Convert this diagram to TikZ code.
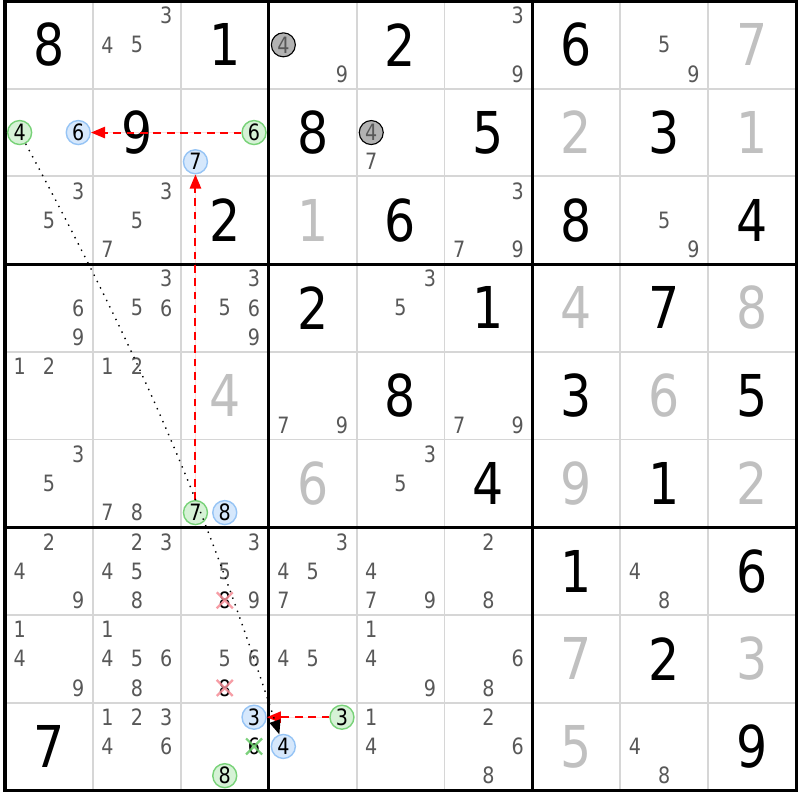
\documentclass[tikz,border=0pt]{standalone}
\usepackage{fontspec}
\setmainfont[FakeStretch=0.85]{DejaVu Sans}
\usetikzlibrary{arrows.meta}

\definecolor{candgray}{RGB}{88,88,88}
\definecolor{solvedgray}{RGB}{192,192,192}
\definecolor{gridgray}{RGB}{214,214,214}
\definecolor{greenfill}{RGB}{214,242,214}
\definecolor{greenline}{RGB}{120,210,120}
\definecolor{bluefill}{RGB}{214,232,252}
\definecolor{blueline}{RGB}{150,196,245}
\definecolor{finfill}{RGB}{178,178,178}
\definecolor{xredcol}{RGB}{245,140,150}
\definecolor{xgreencol}{RGB}{100,200,100}
\definecolor{linkred}{RGB}{255,0,0}

% centre of candidate #3 in cell (col #1, row #2)
\newcommand{\cpos}[3]{%
  \pgfmathsetmacro{\cx}{5+(#1-1)*87.9+(mod(#3-1,3)+0.5)*29.3}%
  \pgfmathsetmacro{\cy}{1+(#2-1)*87.7+(floor((#3-1)/3)+0.5)*29.23}}
\newcommand{\cand}[4][]{\cpos{#2}{#3}{#4}\node[cand,#1] at (\cx,\cy) {#4};}
\newcommand{\cands}[3]{\foreach \dg in {#3}{\cand{#1}{#2}{\dg}}}
\newcommand{\xcand}[4]{\cpos{#2}{#3}{#4}%
  \node[cand,text=black] at (\cx,\cy) {#4};%
  \draw[#1] (\cx-8,\cy-8) -- (\cx+8,\cy+8) (\cx-8,\cy+8) -- (\cx+8,\cy-8);}

\begin{document}
\begin{tikzpicture}[x=0.025cm,y=-0.025cm,>={Triangle[length=10pt,width=8pt]}]
  \tikzstyle{cellline}=[gridgray,line width=1.4pt]
  \tikzstyle{boxline}=[black,line width=2.2pt]
  \tikzstyle{cand}=[inner sep=0pt,text=candgray,font=\fontsize{16pt}{16pt}\selectfont]
  \tikzstyle{given}=[inner sep=0pt,text=black,font=\fontsize{41pt}{41pt}\selectfont]
  \tikzstyle{solved}=[given,text=solvedgray]
  \tikzstyle{circ}=[circle,inner sep=0pt,minimum size=0.6cm,line width=1pt,text=black]
  \tikzstyle{oncand}=[circ,draw=greenline,fill=greenfill]
  \tikzstyle{offcand}=[circ,draw=blueline,fill=bluefill]
  \tikzstyle{fin}=[circ,draw=black,fill=finfill,text=candgray,line width=0.8pt]
  \tikzstyle{xred}=[xredcol,line width=1.6pt,opacity=0.85]
  \tikzstyle{xgreen}=[xgreencol,line width=1.6pt,opacity=0.85]
  \tikzstyle{link}=[->,draw=linkred,fill=linkred,line width=1.4pt,dash pattern=on 5.5pt off 4pt]
  \tikzstyle{weaklink}=[->,black,line width=1pt,dash pattern=on 1pt off 4pt]

  \useasboundingbox (0,0) rectangle (800,800);
  \fill[white] (0,0) rectangle (800,800);

  % grid
  \foreach \i in {1,2,4,5,7,8} {
    \draw[cellline] ({5+\i*87.9},1) -- ({5+\i*87.9},790.3);
    \draw[cellline] (5,{1+\i*87.7}) -- (796.1,{1+\i*87.7});
  }
  \foreach \i in {3,6} {
    \draw[boxline] ({5+\i*87.9},1) -- ({5+\i*87.9},790.3);
    \draw[boxline] (5,{1+\i*87.7}) -- (796.1,{1+\i*87.7});
  }
  \draw[boxline,line cap=rect] (5,1) rectangle (796.1,790.3);

  % givens and solved cells
  \foreach \c/\r/\v in {1/1/8,3/1/1,5/1/2,7/1/6,2/2/9,4/2/8,6/2/5,8/2/3,
      3/3/2,5/3/6,7/3/8,9/3/4,4/4/2,6/4/1,8/4/7,5/5/8,7/5/3,9/5/5,
      6/6/4,8/6/1,7/7/1,9/7/6,8/8/2,1/9/7,9/9/9}
    \node[given] at ({5+(\c-0.5)*87.9},{1+(\r-0.5)*87.7}) {\v};
  \foreach \c/\r/\v in {9/1/7,7/2/2,9/2/1,4/3/1,7/4/4,9/4/8,3/5/4,8/5/6,
      4/6/6,7/6/9,9/6/2,7/8/7,9/8/3,7/9/5}
    \node[solved] at ({5+(\c-0.5)*87.9},{1+(\r-0.5)*87.7}) {\v};

  % candidates
  \cands{2}{1}{3,4,5} \cands{4}{1}{9} \cands{6}{1}{3,9} \cands{8}{1}{5,9}
  \cands{5}{2}{7}
  \cands{1}{3}{3,5} \cands{2}{3}{3,5,7} \cands{6}{3}{3,7,9} \cands{8}{3}{5,9}
  \cands{1}{4}{6,9} \cands{2}{4}{3,5,6} \cands{3}{4}{3,5,6,9} \cands{5}{4}{3,5}
  \cands{1}{5}{1,2} \cands{2}{5}{1,2} \cands{4}{5}{7,9} \cands{6}{5}{7,9}
  \cands{1}{6}{3,5} \cands{2}{6}{7,8} \cands{5}{6}{3,5}
  \cands{1}{7}{2,4,9} \cands{2}{7}{2,3,4,5,8} \cands{3}{7}{3,5,9}
  \cands{4}{7}{3,4,5,7} \cands{5}{7}{4,7,9} \cands{6}{7}{2,8} \cands{8}{7}{4,8}
  \cands{1}{8}{1,4,9} \cands{2}{8}{1,4,5,6,8} \cands{3}{8}{5,6}
  \cands{4}{8}{4,5} \cands{5}{8}{1,4,9} \cands{6}{8}{6,8}
  \cands{2}{9}{1,2,3,4,6} \cands{5}{9}{1,4} \cands{6}{9}{2,6,8} \cands{8}{9}{4,8}

  % eliminations
  \xcand{xred}{3}{7}{8}
  \xcand{xred}{3}{8}{8}
  \xcand{xgreen}{3}{9}{6}

  % chain
  \cand[fin]{4}{1}{4}
  \cand[fin]{5}{2}{4}
  \cand[oncand,name=r2c1n4]{1}{2}{4}
  \cand[offcand,name=r2c1n6]{1}{2}{6}
  \cand[oncand,name=r2c3n6]{3}{2}{6}
  \cand[offcand,name=r2c3n7]{3}{2}{7}
  \cand[oncand,name=r6c3n7]{3}{6}{7}
  \cand[offcand,name=r6c3n8]{3}{6}{8}
  \cand[offcand,name=r9c3n3]{3}{9}{3}
  \cand[oncand,name=r9c3n8]{3}{9}{8}
  \cand[oncand,name=r9c4n3]{4}{9}{3}
  \cand[offcand,name=r9c4n4]{4}{9}{4}

  \draw[link] (r2c3n6) -- (r2c1n6);
  \draw[link] (r6c3n7) -- (r2c3n7);
  \draw[link] (r9c4n3) -- (r9c3n3);
  \draw[weaklink] (r2c1n4) to[bend left=5] (r9c4n4);
\end{tikzpicture}
\end{document}
